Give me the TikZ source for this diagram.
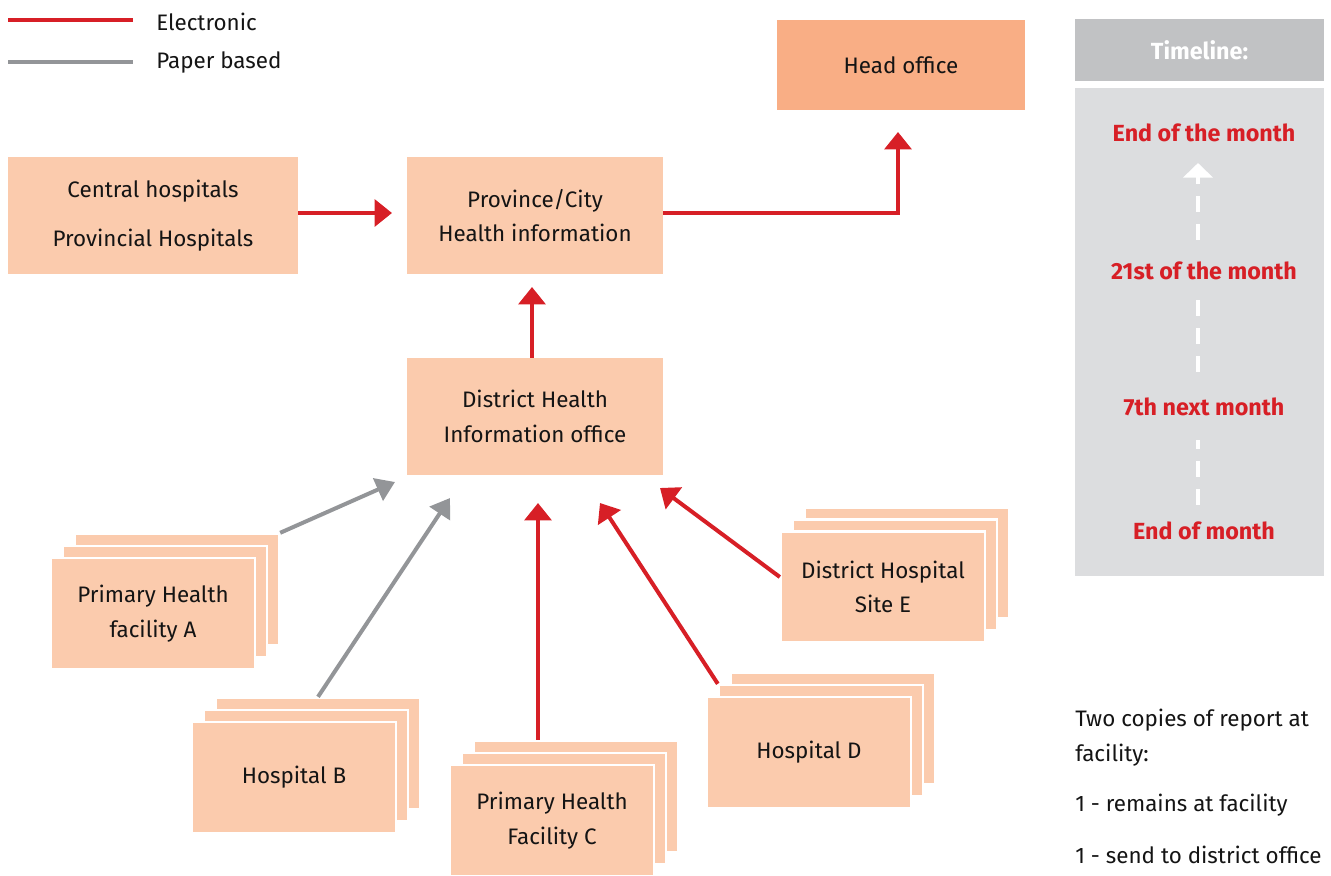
\documentclass[tikz,border=0pt]{standalone}
\usepackage{fontspec}
\setmainfont{Fira Sans}
\usetikzlibrary{arrows.meta}
\definecolor{peach}{HTML}{FBCBAD}
\definecolor{headc}{HTML}{F9AE85}
\definecolor{ered}{HTML}{D71F26}
\definecolor{pgray}{HTML}{939598}
\definecolor{tlhead}{HTML}{C1C2C4}
\definecolor{tlbody}{HTML}{DCDDDF}
\begin{document}
\begin{tikzpicture}[x=0.75pt,y=-0.75pt,
  txt/.style={font=\fontsize{16.8}{26}\selectfont, text=black!92},
  bigbox/.style={txt, fill=peach, draw=none, minimum width=192pt, minimum height=87.75pt, align=center, inner sep=0pt},
  sb/.style={txt, fill=peach, draw=white, line width=1.8pt, minimum width=153pt, minimum height=83.25pt, align=center, inner sep=0pt},
  elec/.style={draw=ered, line width=3pt, -{Triangle[width=20pt,length=13pt]}},
  paper/.style={draw=pgray, line width=3pt, -{Triangle[width=18pt,length=14pt]}},
  tl/.style={font=\bfseries\fontsize{17.5}{20}\selectfont, text=ered},
  note/.style={txt, anchor=west, inner sep=0pt}
]
\useasboundingbox (0,0) rectangle (1331,875);

% legend
\coordinate (le1) at (8,20); \coordinate (le2) at (133,20);
\coordinate (lp1) at (8,62); \coordinate (lp2) at (133,62);
\draw[ered, line width=3pt] (le1) -- (le2);
\draw[pgray, line width=3pt] (lp1) -- (lp2);
\node[note] (lelec) at (156,22) {Electronic};
\node[note] (lpaper) at (156,62) {Paper based};

% top boxes
\node[txt, fill=headc, minimum width=186pt, minimum height=67.5pt, inner sep=0pt] (head) at (901,65) {Head office};
\node[bigbox, minimum width=217.5pt] (central) at (153,215.5) {Central hospitals\\[11pt]Provincial Hospitals};
\node[bigbox] (prov) at (535,215.5) {Province/City\\Health information};
\node[bigbox] (dist) at (535,416.5) {District Health\\Information office};

% stacked boxes
\newcommand\stackedbox[4]{%
  \node[sb, xshift=18pt, yshift=18pt] (#1b2) at (#2,#3) {};
  \node[sb, xshift=9pt, yshift=9pt] (#1b1) at (#2,#3) {};
  \node[sb] (#1) at (#2,#3) {#4};
}
\stackedbox{A}{153}{613.5}{Primary Health\\facility A}
\stackedbox{B}{294}{777.5}{Hospital B}
\stackedbox{C}{552}{820.5}{Primary Health\\Facility C}
\stackedbox{D}{809}{752.5}{Hospital D}
\stackedbox{E}{883}{587}{District Hospital\\Site E}

% arrow tips
\coordinate (t1) at (392,213);
\coordinate (t2) at (898,132);
\coordinate (t3) at (532,287);
\coordinate (tA) at (395,482);
\coordinate (tB) at (450,498);
\coordinate (tC) at (538,503);
\coordinate (tD) at (600,503);
\coordinate (tE) at (660,488);

\draw[elec] (central.east |- t1) -- (t1);
\draw[elec] (prov.east |- t1) -| (t2);
\draw[elec] (dist.north -| t3) -- (t3);
\draw[paper] (Ab2.north east) -- (tA);
\draw[paper] (Bb2.north) -- (tB);
\draw[elec] (Cb2.north -| tC) -- (tC);
\draw[elec] (Db1.north west) -- (tD);
\draw[elec] ([yshift=7.5pt]E.west) -- (tE);

% timeline
\node[fill=tlhead, minimum width=187pt, minimum height=46.5pt, inner sep=0pt, font=\bfseries\fontsize{17.5}{20}\selectfont, text=white] (tlh) at (1199.5,50) {Timeline:};
\node[fill=tlbody, minimum width=187pt, minimum height=366pt, inner sep=0pt] (tlb) at (1199.5,332) {};
\node[tl] (m1) at (1204,133) {End of the month};
\node[tl] (m2) at (1204,271) {21st of the month};
\node[tl] (m3) at (1204,407) {7th next month};
\node[tl] (m4) at (1204,531) {End of month};
\coordinate (d1) at (1198,505); \coordinate (d2) at (1198,440);
\coordinate (d3) at (1198,372); \coordinate (d4) at (1198,300);
\coordinate (d5) at (1198,240); \coordinate (d6) at (1198,163);
\draw[white, line width=3pt, dash pattern=on 12pt off 9pt] (d1) -- (d2);
\draw[white, line width=3pt, dash pattern=on 12pt off 9pt] (d3) -- (d4);
\draw[white, line width=3pt, dash pattern=on 12pt off 9pt, -{Triangle[width=22pt,length=11pt]}] (d5) -- (d6);

% notes
\node[note] (n1) at (1075,720) {Two copies of report at};
\node[note] (n2) at (1075,755) {facility:};
\node[note] (n3) at (1075,805) {1 - remains at facility};
\node[note] (n4) at (1075,855) {1 - send to district office};
\end{tikzpicture}
\end{document}
